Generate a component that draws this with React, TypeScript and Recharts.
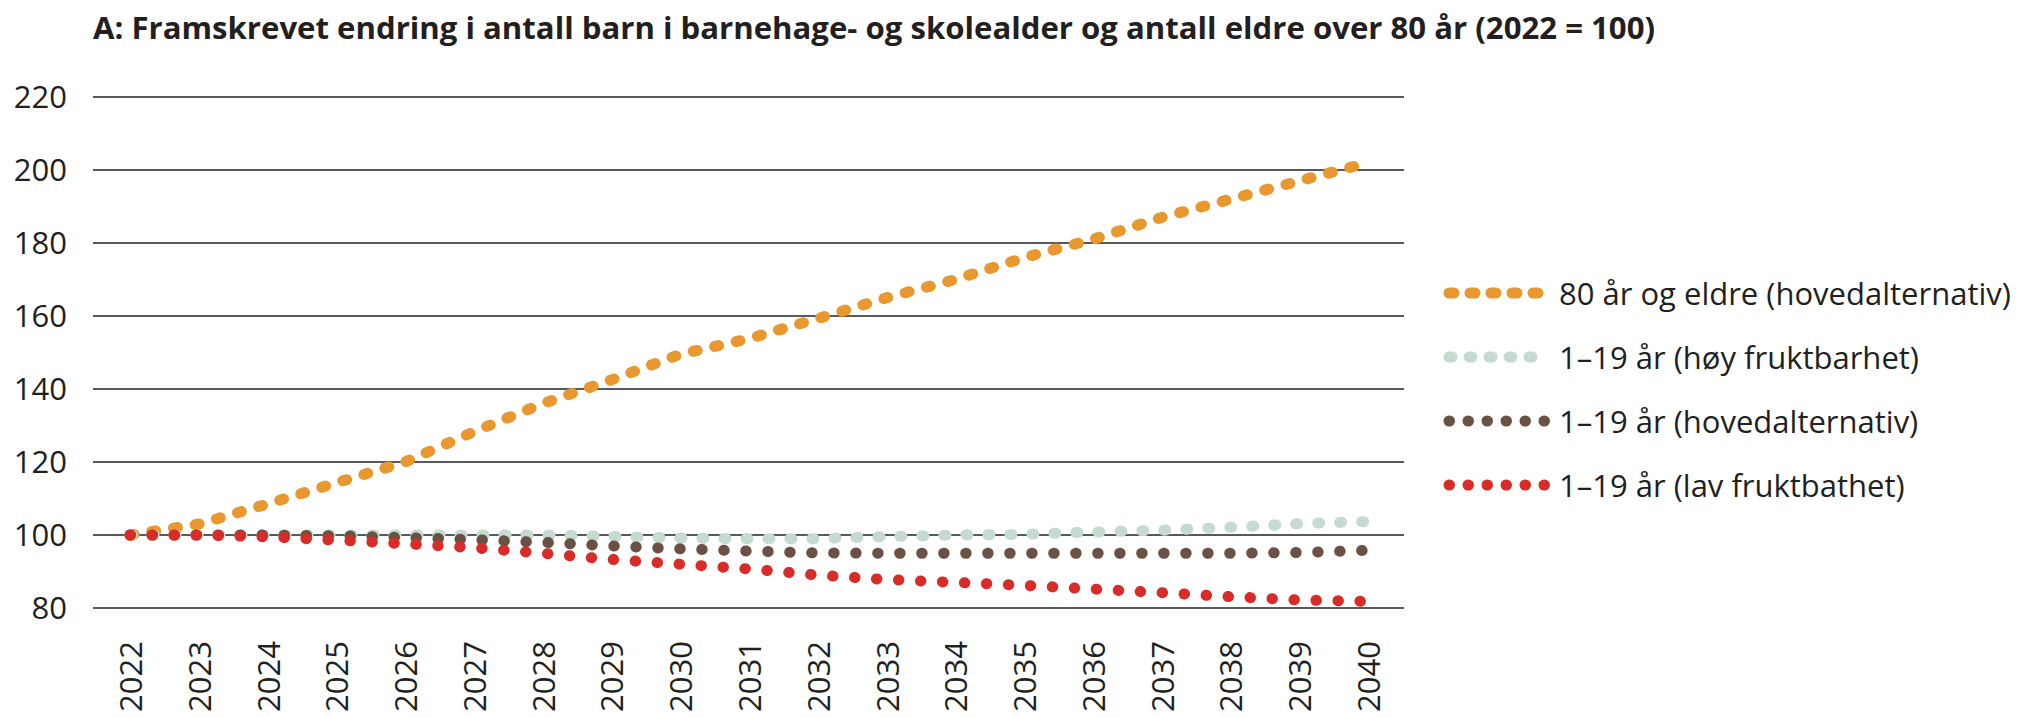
import React from "react";
import { LineChart, Line, XAxis, YAxis, CartesianGrid } from "recharts";

const years = [
  "2022", "2023", "2024", "2025", "2026", "2027", "2028", "2029", "2030", "2031",
  "2032", "2033", "2034", "2035", "2036", "2037", "2038", "2039", "2040"
];

// 80 år og eldre (hovedalternativ)
const eldre80 = [100, 103, 108.5, 114.3, 120, 128.3, 136, 142.5, 149.5, 153.8, 159.3, 165, 170, 176, 181, 187, 192, 197, 202];
// 1–19 år (høy fruktbarhet)
const hoyFrukt = [100, 100, 100, 100, 100, 100, 100, 99.6, 99.2, 99, 99, 99.6, 100, 100.2, 100.8, 101.3, 102.1, 103.1, 103.7];
// 1–19 år (hovedalternativ)
const hovedBarn = [100, 100, 100, 99.8, 99.3, 98.7, 98, 97, 96.2, 95.6, 95.1, 95, 95, 95, 95, 95, 95, 95.2, 95.8];
// 1–19 år (lav fruktbathet)
const lavFrukt = [100, 100, 99.5, 98.6, 97.6, 96.5, 95, 93.3, 92, 90.7, 89, 87.8, 87, 86.2, 85.2, 84.2, 83.1, 82.2, 81.8];

const yTicks = [80, 100, 120, 140, 160, 180, 200, 220];

const series = [
  { key: "eldre80", name: "80 år og eldre (hovedalternativ)", color: "#e9982f", dash: "4 18", legendDash: "5 16" },
  { key: "hoyFrukt", name: "1–19 år (høy fruktbarhet)", color: "#c5dbd0", dash: "2 20", legendDash: "3 17" },
  { key: "hovedBarn", name: "1–19 år (hovedalternativ)", color: "#6b5143", dash: "0.5 21.5", legendDash: "0.5 18.5" },
  { key: "lavFrukt", name: "1–19 år (lav fruktbathet)", color: "#d92b27", dash: "0.5 21.5", legendDash: "0.5 18.5" }
];

const data = years.map((year, i) => ({
  year,
  eldre80: eldre80[i],
  hoyFrukt: hoyFrukt[i],
  hovedBarn: hovedBarn[i],
  lavFrukt: lavFrukt[i]
}));

const FONT = "'Open Sans', 'Noto Sans', sans-serif";
const TEXT = "#231f20";

const YearTick = (props: any) => {
  const { x, y, payload } = props;
  return (
    <text
      x={x}
      y={y}
      transform={`rotate(-90 ${x} ${y})`}
      textAnchor="end"
      dominantBaseline="central"
      fill={TEXT}
      fontSize={31}
      fontFamily={FONT}
    >
      {payload.value}
    </text>
  );
};

// legend kept outside recharts so it doesn't eat into the plot area
const ChartLegend = () => (
  <div style={{ position: "absolute", left: 1443, top: 261, fontFamily: FONT, color: TEXT }}>
    {series.map(s => (
      <div key={s.key} style={{ display: "flex", alignItems: "center", height: 64 }}>
        <svg width={116} height={20} style={{ flex: "none" }}>
          <line
            x1={6}
            y1={10}
            x2={104}
            y2={10}
            stroke={s.color}
            strokeWidth={11}
            strokeLinecap="round"
            strokeDasharray={s.legendDash}
          />
        </svg>
        <span style={{ fontSize: 31, whiteSpace: "nowrap", lineHeight: 1 }}>{s.name}</span>
      </div>
    ))}
  </div>
);

const App: React.FC = () => {
  return (
    <div style={{ position: "absolute", left: 0, top: 0, width: 2036, height: 717, background: "#fff" }}>
      <svg width={2036} height={60} style={{ position: "absolute", left: 0, top: 0 }}>
        <text
          x={93}
          y={39}
          fontSize={30}
          fontWeight={700}
          fontFamily={FONT}
          fill={TEXT}
          textLength={1562}
          lengthAdjust="spacingAndGlyphs"
        >
          A: Framskrevet endring i antall barn i barnehage- og skolealder og antall eldre over 80 år (2022 = 100)
        </text>
      </svg>

      <div style={{ position: "absolute", left: 0, top: 0 }}>
        <LineChart
          width={2036}
          height={717}
          data={data}
          margin={{ top: 97, right: 632, bottom: 9, left: 0 }}
        >
          <CartesianGrid horizontal vertical={false} stroke="#58595b" strokeWidth={2} />
          <XAxis
            dataKey="year"
            axisLine={false}
            tickLine={false}
            tickMargin={27}
            height={100}
            interval={0}
            padding={{ left: 37, right: 36 }}
            tick={<YearTick />}
          />
          <YAxis
            domain={[80, 220]}
            ticks={yTicks}
            interval={0}
            axisLine={false}
            tickLine={false}
            tickMargin={20}
            width={93}
            tick={{ fill: TEXT, fontSize: 31, fontFamily: FONT }}
          />
          {series.map(s => (
            <Line
              key={s.key}
              type="linear"
              dataKey={s.key}
              name={s.name}
              stroke={s.color}
              strokeWidth={11}
              strokeLinecap="round"
              strokeDasharray={s.dash}
              dot={false}
              activeDot={false}
              isAnimationActive={false}
            />
          ))}
        </LineChart>
      </div>

      <ChartLegend />
    </div>
  );
};

export default App;
